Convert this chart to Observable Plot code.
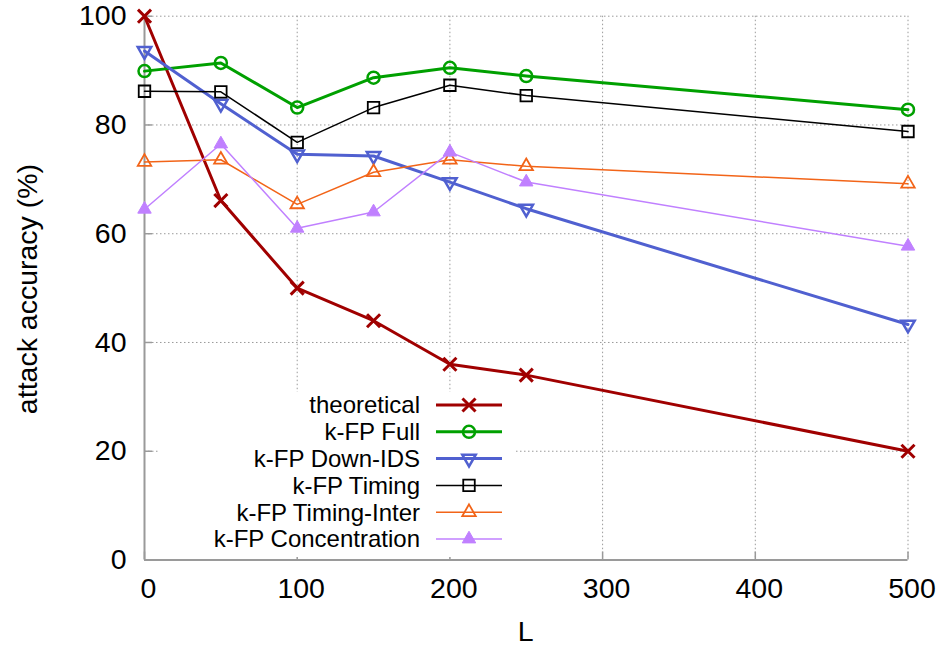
<!DOCTYPE html>
<html><head><meta charset="utf-8">
<script src="https://cdn.jsdelivr.net/npm/d3@7"></script>
<script src="https://cdn.jsdelivr.net/npm/@observablehq/plot@0.6"></script>
<style>body{margin:0;background:#fff} svg{display:block}</style>
</head><body><div id="chart"></div>
<script>
// ---- data ----
const L = [0, 50, 100, 150, 200, 250, 500];
const theoretical      = [100, 66.1, 50.0, 44.0, 36.0, 34.0, 20.0];
const kfpFull          = [89.9, 91.4, 83.2, 88.7, 90.5, 89.0, 82.8];
const kfpDownIDS       = [93.6, 83.9, 74.6, 74.3, 69.5, 64.6, 43.3];
const kfpTiming        = [86.2, 86.1, 76.8, 83.2, 87.3, 85.4, 78.8];
const kfpTimingInter   = [73.2, 73.6, 65.4, 71.3, 73.6, 72.4, 69.2];
const kfpConcentration = [64.5, 76.5, 61.0, 64.0, 75.0, 69.5, 57.7];
const seriesNames = ["theoretical", "k-FP Full", "k-FP Down-IDS", "k-FP Timing", "k-FP Timing-Inter", "k-FP Concentration"];
const xTicks = [0, 100, 200, 300, 400, 500];
const yTicks = [0, 20, 40, 60, 80, 100];
const xLabel = "L";
const yLabel = "attack accuracy (%)";

// ---- styles ----
const values = [theoretical, kfpFull, kfpDownIDS, kfpTiming, kfpTimingInter, kfpConcentration];
const styles = [
  {color: "#a00000", width: 3,   symbol: "times",    fill: "none",    rotate: 0,   r: 6,   sw: 3},
  {color: "#00a000", width: 3,   symbol: "circle",   fill: "none",    rotate: 0,   r: 6,   sw: 2.5},
  {color: "#5060d0", width: 3,   symbol: "triangle", fill: "none",    rotate: 180, r: 5,   sw: 2.5},
  {color: "#000000", width: 1.5, symbol: "square",   fill: "none",    rotate: 0,   r: 6.5, sw: 1.8},
  {color: "#f26418", width: 1.5, symbol: "triangle", fill: "none",    rotate: 0,   r: 5,   sw: 1.8},
  {color: "#c080ff", width: 1.5, symbol: "triangle", fill: "#c080ff", rotate: 0,   r: 5,   sw: 1}
];
const series = seriesNames.map((name, i) => ({name, ...styles[i],
  rows: L.map((x, j) => ({series: name, x, y: values[i][j]}))}));

const W = 939, H = 646, mL = 144, mR = 31.5, mT = 15.7, mB = 86.5;
const frameW = W - mL - mR, frameH = H - mT - mB;
const font = "'Liberation Sans', Arial, Helvetica, sans-serif";
const gray = "#9a9a9a";
const fs = 28.5;

const marks = [
  Plot.gridX(xTicks.filter(d => d > 0), {stroke: gray, strokeOpacity: 1, strokeDasharray: "1.5,2.5", strokeWidth: 1}),
  Plot.gridY(yTicks.filter(d => d > 0), {stroke: gray, strokeOpacity: 1, strokeDasharray: "1.5,2.5", strokeWidth: 1}),
  Plot.ruleX([0], {stroke: gray, strokeWidth: 2}),
  Plot.ruleY([0], {stroke: gray, strokeWidth: 2}),
  Plot.tickX(xTicks, {x: d => d, stroke: gray, strokeWidth: 1.5, insetTop: frameH - 8}),
  Plot.tickY(yTicks, {y: d => d, stroke: gray, strokeWidth: 1.5, insetRight: frameW - 8}),
  Plot.axisX({ticks: xTicks, tickSize: 0, tickPadding: 18, fontSize: fs, fill: "black", label: null, dx: 4}),
  Plot.axisY({ticks: yTicks, tickSize: 0, tickPadding: 18, fontSize: fs, fill: "black", label: null})
];
for (const s of series) {
  marks.push(Plot.line(s.rows, {x: "x", y: "y", stroke: s.color, strokeWidth: s.width}));
  marks.push(Plot.dot(s.rows, {x: "x", y: "y", symbol: s.symbol, r: s.r, stroke: s.color,
    fill: s.fill, strokeWidth: s.sw, rotate: s.rotate}));
}

const plot = Plot.plot({
  width: W, height: H,
  marginLeft: mL, marginRight: mR, marginTop: mT, marginBottom: mB,
  x: {domain: [0, 500]},
  y: {domain: [0, 100]},
  style: {fontFamily: font, fontSize: fs + "px", background: "#fff", color: "black"},
  marks
});
document.getElementById("chart").append(plot);

// ---- axis titles and legend ----
const svg = d3.select(plot);
svg.append("text").attr("x", (mL + W - mR) / 2).attr("y", 641)
  .attr("text-anchor", "middle").attr("font-size", fs).attr("font-family", font).text(xLabel);
svg.append("text").attr("transform", "translate(37,289) rotate(-90)")
  .attr("text-anchor", "middle").attr("font-size", fs).attr("font-family", font).text(yLabel);

const lg = svg.append("g");
lg.append("rect").attr("x", 160).attr("y", 392).attr("width", 356).attr("height", 165).attr("fill", "#fff");
const symMap = {times: d3.symbolTimes, circle: d3.symbolCircle, triangle: d3.symbolTriangle, square: d3.symbolSquare};
series.forEach((s, i) => {
  const y = 405 + i * 26.8;
  lg.append("text").attr("x", 420).attr("y", y).attr("dy", "0.35em").attr("text-anchor", "end")
    .attr("font-size", 24).attr("font-family", font).attr("fill", "black").text(s.name);
  lg.append("line").attr("x1", 436).attr("x2", 502).attr("y1", y).attr("y2", y)
    .attr("stroke", s.color).attr("stroke-width", s.width);
  lg.append("path").attr("d", d3.symbol(symMap[s.symbol], Math.PI * s.r * s.r)())
    .attr("transform", `translate(469,${y}) rotate(${s.rotate})`)
    .attr("fill", s.fill).attr("stroke", s.color).attr("stroke-width", s.sw);
});
</script>
</body></html>
